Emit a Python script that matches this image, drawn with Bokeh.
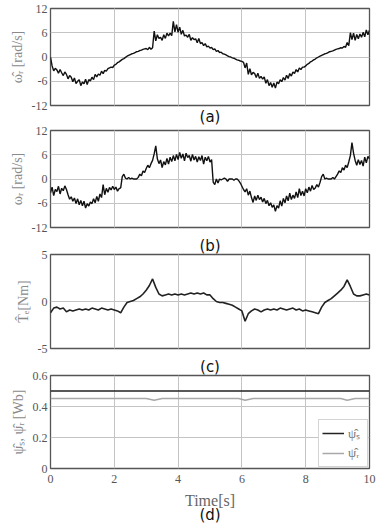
from bokeh.plotting import figure
from bokeh.layouts import column
from bokeh.models import Range1d, FixedTicker, Grid, Title, Legend, LegendItem
from bokeh.core.properties import value
from bokeh.embed import file_html
from bokeh.resources import INLINE

# ---------------- data ----------------
t_fast = [round(i * 0.05, 2) for i in range(201)]
t_slow = [round(i * 0.1, 1) for i in range(101)]

omega_hat = [
    0.0, -2.2, -3.4, -2.8, -3.2, -4.0, -3.1, -3.9, -4.6, -3.7, -4.3, -5.4, -4.6, -5.0, -6.1, -5.2, -6.6, -6.0, -5.6, -7.1,
    -6.2, -6.6, -5.5, -6.8, -5.6, -5.9, -5.0, -5.6, -4.3, -4.9, -4.2, -4.5, -3.5, -4.1, -3.3, -3.5, -2.9, -2.7, -2.5, -2.6,
    -2.0, -1.8, -1.4, -1.2, -0.9, -0.6, -0.4, -0.1, 0.2, 0.4, 0.6, 0.8, 0.9, 1.1, 1.3, 1.4, 1.6, 1.7, 1.9, 2.0,
    2.1, 1.8, 2.4, 1.9, 2.3, 6.4, 4.0, 5.5, 4.6, 4.9, 4.1, 5.5, 4.6, 5.9, 5.2, 5.9, 5.3, 8.8, 6.2, 8.0,
    6.1, 7.4, 5.6, 6.6, 5.2, 5.4, 4.9, 5.6, 4.1, 4.8, 4.3, 4.5, 3.5, 4.6, 3.3, 3.6, 2.8, 3.3, 2.5, 2.7,
    2.2, 2.4, 1.8, 2.0, 1.4, 1.6, 1.1, 1.2, 0.8, 0.7, 0.5, 0.3, 0.1, 0.0, -0.2, -0.3, -0.5, -0.7, -0.8, -1.0,
    -1.1, -1.3, -2.7, -1.5, -4.3, -2.9, -4.4, -3.8, -4.1, -5.1, -4.0, -5.3, -4.8, -5.5, -4.9, -6.5, -5.6, -7.1, -6.3, -7.5,
    -6.4, -7.7, -6.2, -6.6, -5.6, -6.1, -5.1, -5.7, -4.5, -5.3, -4.1, -4.7, -3.7, -4.1, -3.1, -3.7, -2.7, -3.1, -2.5, -2.5,
    -2.2, -1.8, -1.6, -1.2, -1.0, -0.7, -0.5, -0.2, 0.0, 0.2, 0.4, 0.6, 0.8, 0.9, 1.1, 1.3, 1.4, 1.5, 1.7, 1.9,
    2.0, 2.1, 2.3, 2.2, 2.6, 2.4, 3.6, 2.8, 6.0, 4.3, 5.9, 4.1, 5.6, 4.5, 5.7, 4.9, 6.1, 5.0, 6.7, 5.5,
    6.6,
]

omega_r = [
    -3.4, -2.0, -4.1, -2.6, -3.1, -1.8, -3.7, -2.3, -2.9, -1.7, -2.6, -3.9, -5.0, -4.4, -5.5, -4.7, -6.1, -4.9, -6.4, -5.3,
    -6.6, -5.5, -7.2, -6.1, -6.7, -5.7, -6.1, -4.9, -5.9, -4.3, -5.5, -3.7, -4.6, -1.4, -3.9, -2.3, -3.3, -2.1, -2.7, -1.8,
    -2.6, -2.0, -3.0, -2.4, -2.2, 0.6, 1.2, 0.2, 0.0, 0.4, 0.0, 0.2, 0.0, 0.0, 0.0, 0.4, 1.2, 0.8, 2.0, 1.6,
    2.6, 3.4, 2.8, 3.8, 4.6, 6.2, 8.2, 5.0, 3.8, 4.7, 2.8, 4.3, 3.5, 5.1, 3.7, 5.4, 4.3, 5.8, 4.5, 6.1,
    4.8, 6.6, 5.1, 6.2, 4.5, 6.4, 5.3, 5.8, 4.4, 6.1, 4.7, 5.6, 4.2, 5.5, 4.6, 5.8, 3.7, 5.4, 4.5, 5.6,
    4.2, 4.8, -0.8, -1.4, 0.0, -1.0, 0.0, -0.2, 0.0, 0.2, 0.0, -0.6, 0.0, 0.0, 0.0, -0.3, 0.0, 0.0, -0.4, -1.0,
    -1.8, -2.6, -3.2, -2.4, -4.0, -3.0, -4.6, -5.8, -4.2, -5.3, -4.0, -5.1, -4.5, -5.7, -4.8, -6.1, -5.3, -6.6, -5.9, -7.0,
    -6.4, -8.0, -6.6, -7.2, -5.4, -6.7, -4.8, -5.9, -4.2, -5.4, -3.5, -5.1, -4.0, -4.8, -3.2, -4.6, -2.4, -4.1, -3.0, -4.2,
    -2.4, -3.4, -2.0, -3.0, -1.6, -2.6, -2.2, -1.4, -2.0, -0.8, 0.6, 1.2, 0.0, 0.2, 0.0, 0.0, 0.0, 0.4, 0.0, 0.6,
    1.2, 2.0, 1.6, 2.8, 2.2, 3.4, 2.8, 4.2, 5.8, 9.0, 6.4, 4.6, 3.4, 4.8, 3.6, 4.6, 3.2, 5.4, 4.0, 5.6,
    5.0,
]

torque = [
    -1.2, -0.7, -0.6, -0.8, -0.7, -1.1, -0.9, -1.0, -0.9, -0.8,
    -0.9, -0.8, -0.9, -0.7, -0.8, -0.9, -0.7, -0.8, -0.9, -0.8,
    -0.9, -1.0, -1.2, -0.6, -0.1, 0.0, 0.1, 0.3, 0.5, 0.8,
    1.2, 1.7, 2.4, 1.5, 0.8, 0.6, 0.7, 0.8, 0.7, 0.8,
    0.7, 0.8, 0.7, 0.8, 0.9, 0.8, 0.9, 0.8, 0.9, 0.7,
    0.7, 0.3, 0.0, -0.1, -0.1, -0.2, -0.3, -0.4, -0.6, -0.8,
    -1.0, -2.1, -1.3, -1.0, -0.8, -0.9, -1.1, -0.9, -0.8, -0.9,
    -0.8, -0.9, -0.7, -0.8, -0.9, -0.8, -0.7, -0.9, -0.8, -1.0,
    -0.9, -1.0, -1.1, -1.2, -1.3, -0.6, -0.1, 0.1, 0.3, 0.6,
    0.9, 1.2, 1.6, 2.3, 1.6, 0.8, 0.6, 0.6, 0.7, 0.8,
    0.7,
]

t_flux_s = [0.0, 10.0]
flux_s = [0.5, 0.5]
t_flux_r = [0.0, 3.0, 3.25, 3.5, 5.9, 6.1, 6.35, 9.1, 9.3, 9.55, 10.0]
flux_r = [0.452, 0.452, 0.44, 0.452, 0.452, 0.44, 0.452, 0.452, 0.44, 0.452, 0.452]

x_ticks = [0, 2, 4, 6, 8, 10]
x_grid = [2, 4, 6, 8]
panel_names = ["(a)", "(b)", "(c)", "(d)"]
x_title = "Time[s]"

SERIF = "Liberation Serif"
SANS = "DejaVu Sans"
LABEL_COLOR = "#8a8a8a"
TICK_COLOR = "#555555"
GRID_COLOR = "#c4c4c4"
W = 383
BL, BR = 50, 14


def style_title(t, standoff):
    t.align = "center"
    t.text_font = SANS
    t.text_font_size = "15px"
    t.text_font_style = "normal"
    t.text_color = "#111111"
    t.standoff = standoff


def make_fig(height, top, bottom, ymin, ymax, yticks, ylabels, ylabel,
             xaxis=False, top_label=None, top_standoff=0):
    kw = {}
    if top_label is not None:
        kw["title"] = top_label
        kw["title_location"] = "above"
    p = figure(width=W, height=height, output_backend="svg", toolbar_location=None,
               x_range=Range1d(0, 10), y_range=Range1d(ymin, ymax),
               x_axis_location="below" if xaxis else None,
               min_border_left=BL, min_border_right=BR,
               min_border_top=top, min_border_bottom=bottom, **kw)
    if top_label is not None:
        style_title(p.title, top_standoff)
    p.outline_line_color = "#555555"
    p.outline_line_width = 1.3
    p.background_fill_color = "white"
    p.border_fill_color = "white"
    yax = p.yaxis[0]
    yax.ticker = FixedTicker(ticks=yticks)
    yax.major_label_overrides = ylabels
    yax.major_label_text_font = SERIF
    yax.major_label_text_font_size = "12px"
    yax.major_label_text_color = TICK_COLOR
    yax.major_tick_out = 0
    yax.major_tick_in = 0
    yax.minor_tick_out = 0
    yax.minor_tick_in = 0
    yax.axis_line_color = None
    yax.major_label_standoff = 3
    yax.axis_label = ylabel
    yax.axis_label_text_font = SERIF
    yax.axis_label_text_font_style = "normal"
    yax.axis_label_text_font_size = "14px"
    yax.axis_label_text_color = LABEL_COLOR
    yax.axis_label_standoff = 4
    p.ygrid.grid_line_color = GRID_COLOR
    p.ygrid.grid_line_width = 1
    if xaxis:
        xax = p.xaxis[0]
        xax.ticker = FixedTicker(ticks=x_ticks)
        xax.major_label_text_font = SERIF
        xax.major_label_text_font_size = "12px"
        xax.major_label_text_color = TICK_COLOR
        xax.major_tick_out = 0
        xax.major_tick_in = 0
        xax.minor_tick_out = 0
        xax.minor_tick_in = 0
        xax.axis_line_color = None
        xax.major_label_standoff = 6
        p.xgrid.grid_line_color = GRID_COLOR
        p.xgrid.ticker = FixedTicker(ticks=x_grid)
    else:
        p.add_layout(Grid(dimension=0, ticker=FixedTicker(ticks=x_grid),
                          grid_line_color=GRID_COLOR, grid_line_width=1))
    return p


# (a)  label "(a)" in this figure's lower border
pa = make_fig(125, 8, 19, -12, 12, [-12, -6, 0, 6, 12],
              {-12: "-12", -6: "-6", 0: "0", 6: "6", 12: "12"}, "ω̂ᵣ [rad/s]")
pa.line(t_fast, omega_hat, line_color="#111111", line_width=1.4)
ta = Title(text=panel_names[0])
style_title(ta, 0)
pa.add_layout(ta, "below")

# (b)
pb = make_fig(109, 5, 7, -12, 12, [-12, -6, 0, 6, 12],
              {-12: "-12", -6: "-6", 0: "0", 6: "6", 12: "12"}, "ωᵣ [rad/s]")
pb.line(t_fast, omega_r, line_color="#111111", line_width=1.4)

# (c)  label "(b)" sits in this figure's upper border
pc = make_fig(121, 18, 7, -5, 5, [-5, 0, 5], {-5: "-5", 0: "0", 5: "5"}, "T̂ₑ[Nm]",
              top_label=panel_names[1], top_standoff=0)
pc.line(t_slow, torque, line_color="#222222", line_width=1.6)

# (d)  label "(c)" sits in this figure's upper border
pd_ = make_fig(133, 18, 20, 0, 0.6, [0, 0.2, 0.4, 0.6],
               {0: "0", 0.2: "0.2", 0.4: "0.4", 0.6: "0.6"}, "ψ̂ₛ, ψ̂ᵣ [Wb]", xaxis=True,
               top_label=panel_names[2], top_standoff=0)
ls = pd_.line(t_flux_s, flux_s, line_color="#222222", line_width=1.5)
lr = pd_.line(t_flux_r, flux_r, line_color="#a8a8a8", line_width=1.5)
legend = Legend(items=[LegendItem(label="ψ̂ₛ", renderers=[ls]),
                       LegendItem(label="ψ̂ᵣ", renderers=[lr])],
                location="bottom_right", margin=1, padding=3, spacing=0,
                glyph_width=22, glyph_height=20, label_height=20, label_width=16,
                label_text_font=SERIF, label_text_font_size="13px",
                label_text_color="#777777", label_standoff=4,
                border_line_color="#aaaaaa", border_line_width=1,
                background_fill_alpha=1.0)
pd_.add_layout(legend)

# bottom strip: x-axis title and panel label (d)
pe = figure(width=W, height=36, output_backend="svg", toolbar_location=None,
            x_range=Range1d(0, 10), y_range=Range1d(0, 36),
            x_axis_location=None, y_axis_location=None,
            min_border_left=BL, min_border_right=BR, min_border_top=0, min_border_bottom=0)
pe.outline_line_color = None
pe.xgrid.visible = False
pe.ygrid.visible = False
pe.text(x=[5], y=[24], text=[x_title], text_font=value(SERIF), text_font_size="16px",
        text_color="#666666", text_align="center", text_baseline="middle")
pe.text(x=[5], y=[10], text=[panel_names[3]], text_font=value(SANS), text_font_size="15px",
        text_color="#111111", text_align="center", text_baseline="middle")

layout = column(pa, pb, pc, pd_, pe, spacing=0)

open("out.html", "w").write(file_html(layout, INLINE))
